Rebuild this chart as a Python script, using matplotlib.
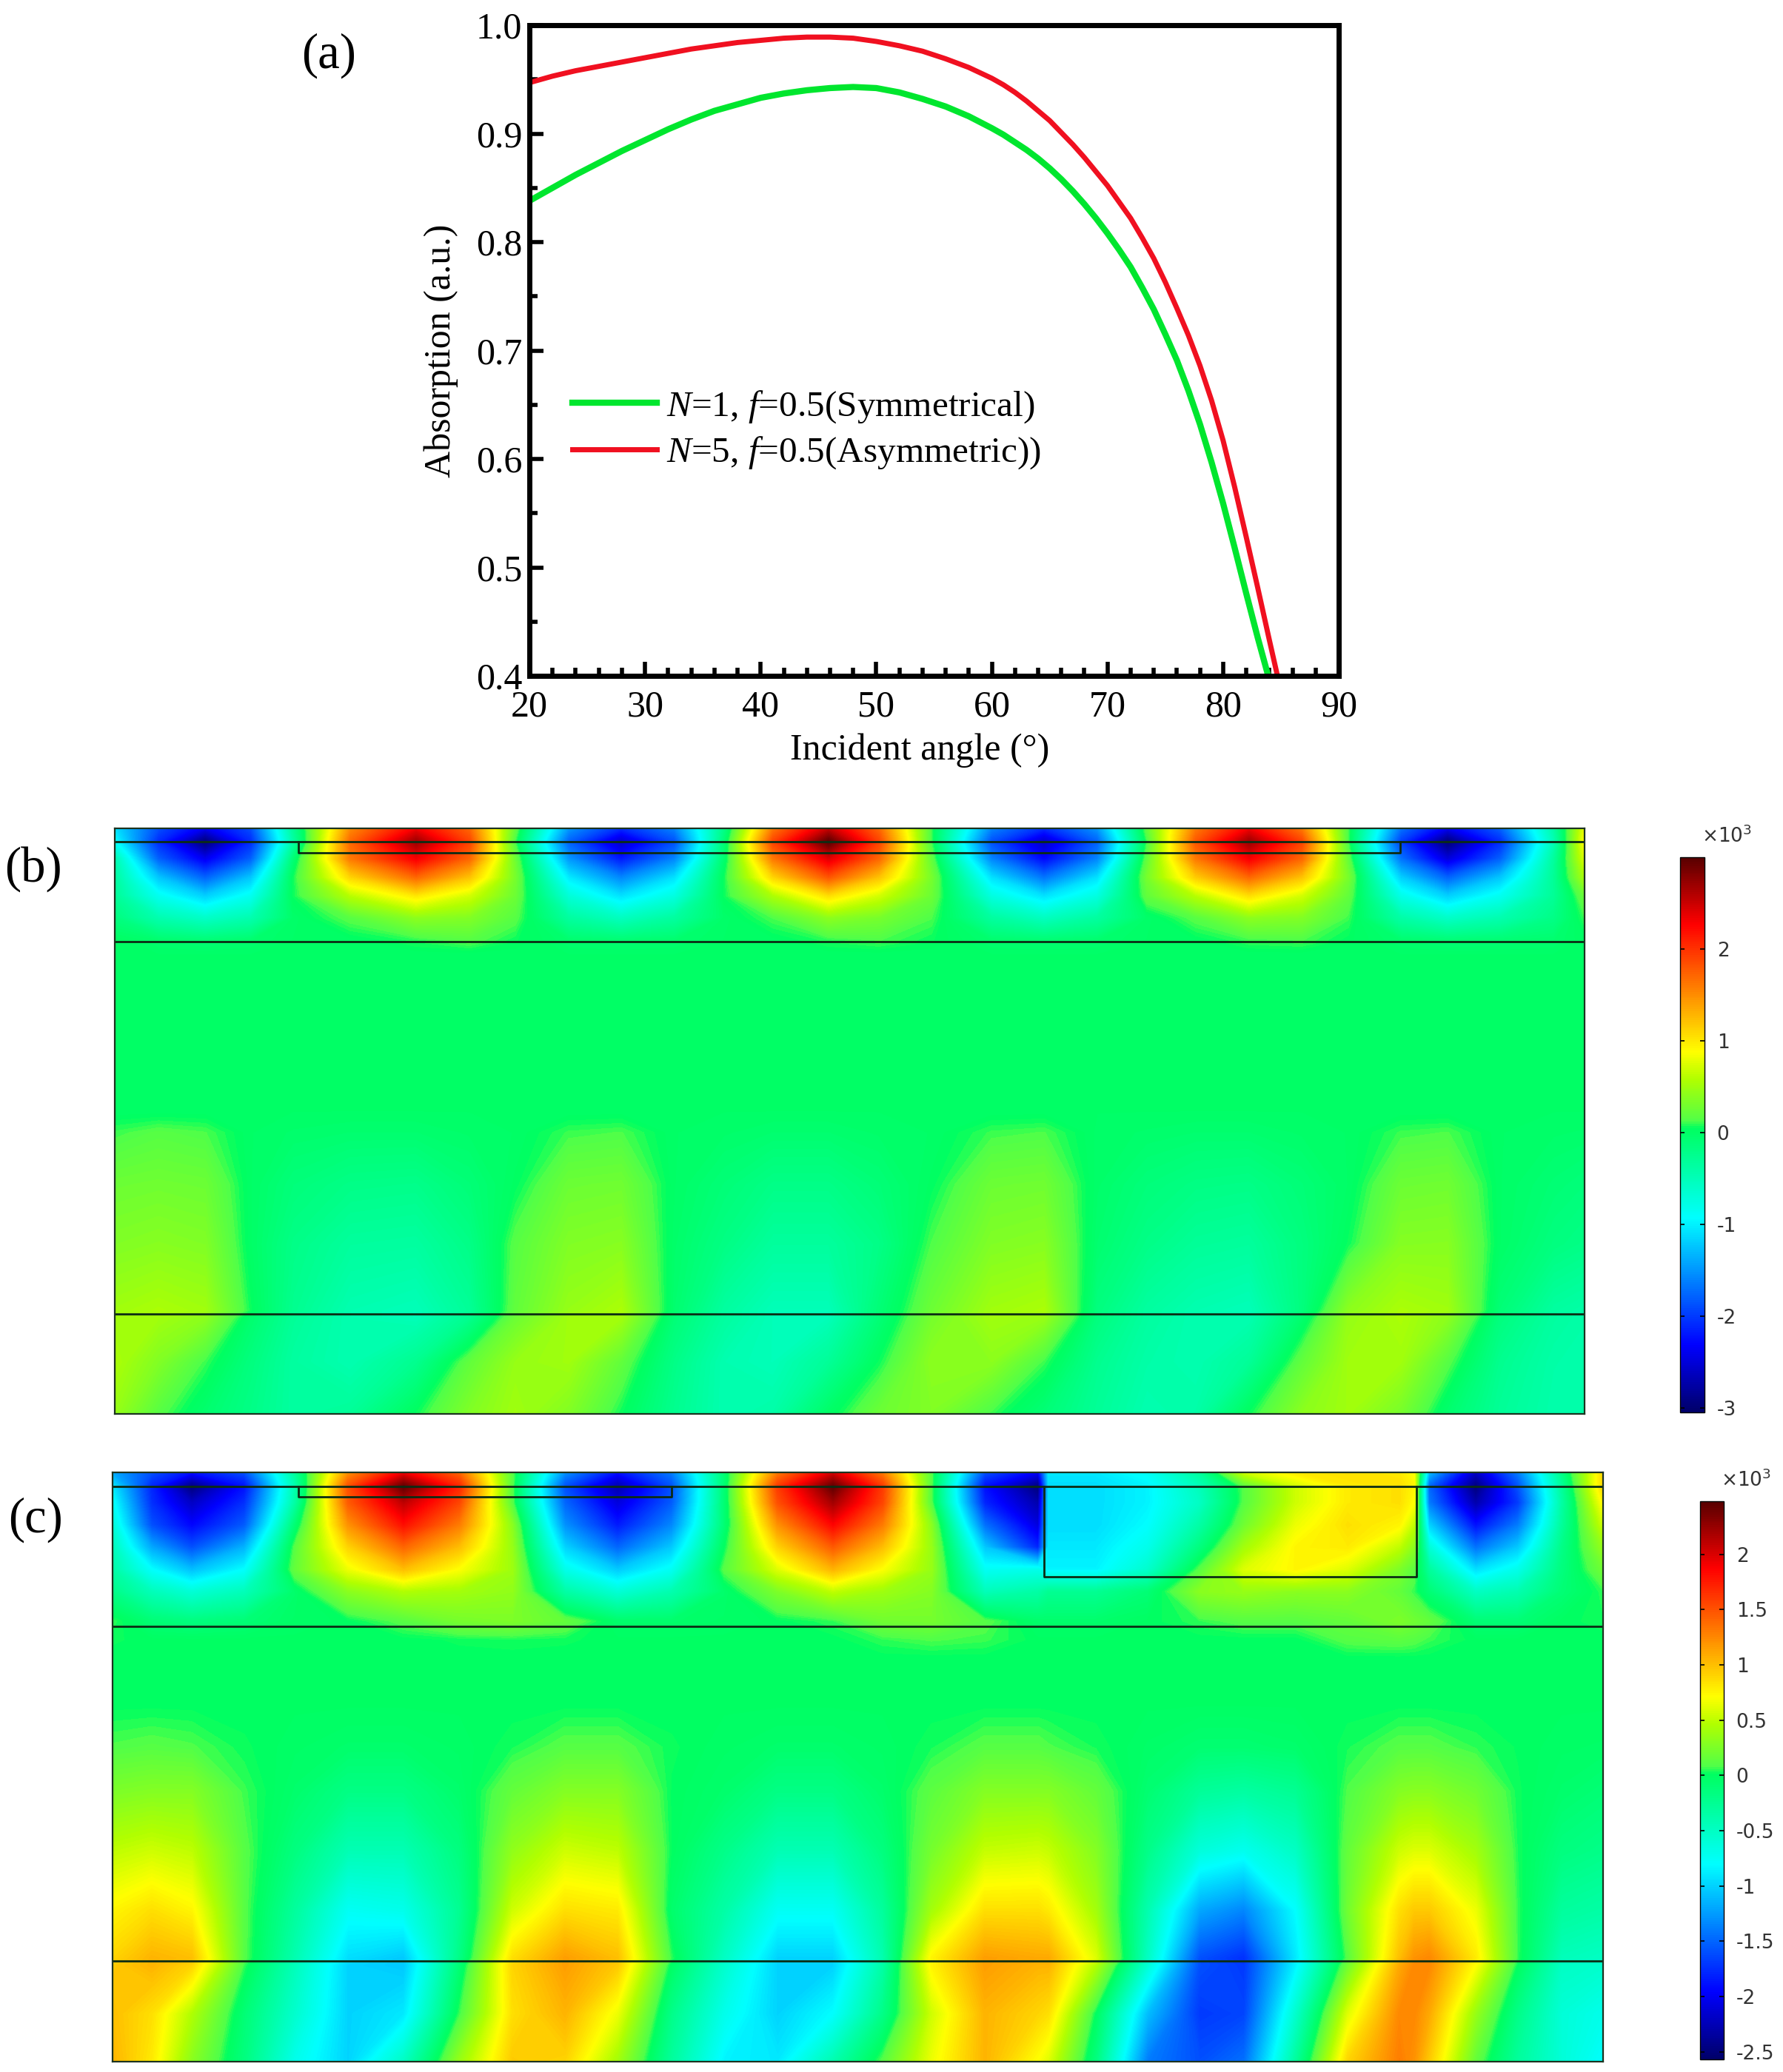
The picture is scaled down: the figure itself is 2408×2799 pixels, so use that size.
import matplotlib
matplotlib.use('Agg')
from matplotlib import pyplot as plt
from matplotlib.cm import ScalarMappable
from matplotlib.colors import LinearSegmentedColormap, Normalize
import numpy as np

W, H = 2408, 2799
plt.rcParams['font.family'] = ['Liberation Serif', 'DejaVu Serif']
plt.rcParams['mathtext.fontset'] = 'custom'
plt.rcParams['mathtext.rm'] = 'Liberation Serif'
plt.rcParams['mathtext.it'] = 'Liberation Serif:italic'

# panel (a)
angle_green = [20, 22, 24, 26, 28, 30, 32, 34, 36, 38, 40, 42, 44, 46, 48, 50, 52, 54, 56, 58, 60, 61, 62, 63, 64,
               65, 66, 67, 68, 69, 70, 71, 72, 73, 74, 75, 76, 77, 78, 79, 80, 81, 82, 83, 83.9]
abs_green = [.838, .850, .862, .873, .884, .894, .904, .913, .921, .927, .933, .937, .940, .942, .943, .942, .938,
             .932, .925, .916, .905, .899, .892, .885, .877, .868, .858, .847, .835, .822, .808, .793, .777, .758,
             .738, .715, .691, .663, .632, .597, .559, .518, .476, .435, .40]
angle_red = [20, 22, 24, 26, 28, 30, 32, 34, 36, 38, 40, 42, 44, 46, 48, 50, 52, 54, 56, 58, 60, 61, 62, 63, 64,
             65, 66, 67, 68, 69, 70, 71, 72, 73, 74, 75, 76, 77, 78, 79, 80, 81, 82, 83, 84, 84.7]
abs_red = [.947, .953, .958, .962, .966, .970, .974, .978, .981, .984, .986, .988, .989, .989, .988, .985, .981,
           .976, .969, .961, .951, .945, .938, .930, .921, .912, .901, .890, .878, .865, .852, .837, .822, .804,
           .785, .763, .739, .714, .686, .654, .617, .574, .528, .481, .433, .40]

# panel (b), field in units of 1e3, sampled along reference pixel rows/columns
b_x = [155, 214, 277, 339, 396, 473, 562, 634, 696, 768, 839, 911, 978, 1044, 1119, 1187, 1258, 1339, 1410, 1482,
       1549, 1615, 1687, 1758, 1821, 1892, 1955, 2026, 2098, 2140]
b_y = [1119, 1137, 1160, 1185, 1210, 1240, 1270, 1290, 1500, 1530, 1600, 1680, 1770, 1780, 1840, 1910]
b_field = [
    [-1.1, -1.9, -2.4, -1.9, -.3, 1.5, 2.3, 1.7, .2, -1.5, -2.1, -1.6, -.2, 1.6, 2.5, 1.7, .1, -1.6, -2.1, -1.5, .2, 1.6, 2.3, 1.6, .1, -1.7, -2.4, -1.8, -.4, .8],
    [-.9, -2.1, -3.0, -2.1, -.4, 1.7, 2.7, 1.9, .1, -1.8, -2.6, -1.9, -.1, 1.9, 3.0, 1.9, .1, -1.9, -2.6, -1.8, .1, 1.8, 2.7, 1.9, .1, -2.0, -3.0, -2.1, -.5, .9],
    [-.45, -1.8, -2.4, -1.8, -.1, 1.6, 2.3, 1.7, .25, -1.5, -2.2, -1.6, -.05, 1.6, 2.4, 1.7, .2, -1.6, -2.3, -1.6, .2, 1.6, 2.3, 1.7, .2, -1.7, -2.5, -1.8, -.35, .75],
    [-.35, -1.25, -1.8, -1.25, .05, 1.1, 1.7, 1.2, .3, -1.05, -1.6, -1.1, .05, 1.1, 1.8, 1.2, .3, -1.1, -1.7, -1.1, .3, 1.15, 1.7, 1.2, .3, -1.2, -1.8, -1.25, -.3, .55],
    [-.3, -.85, -1.2, -.85, .05, .6, 1.0, .7, .25, -.7, -1.1, -.75, .05, .55, 1.05, .7, .25, -.75, -1.1, -.75, .2, .6, 1.05, .7, .2, -.8, -1.2, -.85, -.3, .25],
    [-.15, -.45, -.6, -.45, -.02, .15, .4, .35, .15, -.35, -.55, -.35, -.02, .12, .4, .3, .12, -.35, -.55, -.35, -.02, .15, .4, .35, .1, -.4, -.6, -.45, -.2, .1],
    [.02, -.05, -.1, -.05, .0, .01, .08, .15, .05, -.05, -.08, -.05, .0, .01, .08, .12, .05, -.05, -.08, -.05, .0, .02, .1, .12, .03, -.05, -.1, -.08, -.05, .02],
    [0] * 30,
    [0] * 30,
    [.1, .15, .12, .0, -.03, -.05, -.05, -.02, .0, .1, .12, .0, -.02, -.05, -.05, -.02, .0, .1, .12, -.01, -.03, -.05, -.05, -.02, .0, .1, .12, .0, -.02, -.03],
    [.25, .27, .25, .0, -.12, -.2, -.22, -.1, .03, .25, .27, .0, -.1, -.2, -.2, -.1, .03, .25, .27, -.02, -.12, -.18, -.2, -.1, .0, .25, .27, .0, -.08, -.12],
    [.35, .38, .35, .0, -.2, -.33, -.35, -.2, .15, .35, .38, -.02, -.18, -.33, -.33, -.2, .12, .35, .38, -.05, -.2, -.3, -.33, -.15, .05, .37, .38, .0, -.15, -.2],
    [.5, .55, .5, .05, -.25, -.45, -.5, -.3, .2, .45, .55, -.05, -.35, -.5, -.5, -.1, .25, .5, .55, -.15, -.35, -.45, -.5, -.15, .4, .55, .5, -.1, -.35, -.4],
    [.5, .5, .4, -.05, -.3, -.45, -.5, -.25, .25, .5, .5, -.1, -.35, -.5, -.5, -.1, .3, .5, .45, -.15, -.35, -.45, -.45, -.05, .45, .55, .4, -.15, -.35, -.4],
    [.55, .35, .1, -.15, -.35, -.45, -.25, .2, .45, .5, .2, -.2, -.45, -.5, -.3, .05, .4, .4, .1, -.25, -.4, -.45, -.3, .2, .5, .5, .15, -.25, -.4, -.42],
    [.45, .15, -.05, -.2, -.35, -.3, .05, .35, .5, .35, .05, -.25, -.45, -.4, .0, .25, .35, .1, -.1, -.3, -.45, -.4, .05, .4, .5, .3, -.05, -.3, -.42, -.4],
]
b_ticks = [-3, -2, -1, 0, 1, 2]
b_tick_labels = ['-3', '-2', '-1', '0', '1', '2']

# panel (c)
c_x = [152, 205, 259, 330, 398, 470, 545, 620, 692, 763, 834, 907, 978, 1050, 1125, 1192, 1258, 1330, 1402, 1416,
       1480, 1550, 1620, 1680, 1750, 1820, 1890, 1910, 1930, 1993, 2050, 2109, 2165]
c_y = [1989, 2008, 2030, 2060, 2090, 2120, 2150, 2190, 2215, 2240, 2300, 2360, 2420, 2500, 2580, 2645, 2655, 2720, 2785]
c_field = [
    [-1.2, -1.6, -1.9, -1.6, -.3, 1.2, 1.9, 1.4, .1, -1.3, -1.9, -1.4, -.1, 1.3, 2.0, 1.3, .1, -1.6, -2.0, -.9, -.9, -.75, -.3, .55, .8, .85, .8, .7, -1.1, -2.2, -1.4, -.2, .9],
    [-.9, -1.8, -2.5, -1.9, -.4, 1.5, 2.45, 1.7, .1, -1.6, -2.3, -1.6, -.1, 1.6, 2.45, 1.6, .1, -1.9, -2.5, -.95, -.95, -.85, -.45, .1, .55, .8, .85, .75, -1.5, -2.5, -1.6, -.3, .9],
    [-.75, -1.75, -2.2, -1.75, -.35, 1.45, 2.1, 1.55, .1, -1.5, -2.1, -1.55, -.1, 1.5, 2.2, 1.55, .1, -1.8, -2.3, -.95, -.95, -.85, -.5, .1, .55, .8, .85, .7, -1.4, -2.3, -1.7, -.35, .75],
    [-.6, -1.6, -1.95, -1.55, -.1, 1.2, 1.8, 1.3, .3, -1.3, -1.85, -1.35, -.1, 1.2, 1.85, 1.3, .3, -1.45, -2.1, -.95, -.95, -.8, -.35, .2, .65, .85, .75, .5, -1.0, -1.9, -1.4, -.3, .55],
    [-.45, -1.2, -1.6, -1.15, .1, .9, 1.4, 1.0, .35, -1.0, -1.5, -1.05, .0, .9, 1.45, 1.0, .35, -1.05, -1.8, -.9, -.9, -.7, -.15, .4, .75, .8, .5, .3, -.6, -1.45, -1.05, -.2, .35],
    [-.35, -.8, -1.1, -.8, .15, .65, 1.0, .7, .38, -.7, -1.05, -.75, .1, .6, 1.05, .7, .35, -.75, -.7, -.85, -.85, -.55, .1, .6, .75, .6, .25, .12, -.3, -.95, -.7, -.15, .2],
    [-.2, -.45, -.6, -.45, -.05, .3, .45, .4, .33, -.35, -.6, -.4, -.05, .25, .5, .38, .28, -.45, -.35, -.25, -.25, -.1, .3, .35, .3, .3, .15, .05, -.1, -.5, -.4, -.1, .05],
    [.05, -.1, -.15, -.1, -.02, .0, .1, .22, .25, .15, -.05, -.05, -.02, .0, .05, .2, .22, .1, -.05, -.05, -.05, .0, .05, .1, .1, .15, .25, .2, .15, -.1, -.1, .0, .03],
    [.02, 0, 0, 0, 0, 0, 0, .02, .03, .02, 0, 0, 0, 0, 0, .05, .08, .06, 0, 0, 0, 0, 0, 0, 0, .1, .12, .1, .06, 0, 0, 0, 0],
    [0] * 33,
    [0] * 33,
    [.08, .1, .08, .02, -.02, -.05, -.05, -.02, .03, .1, .1, .02, -.02, -.05, -.05, -.02, .03, .1, .1, .08, .03, -.03, -.08, -.08, -.05, .03, .1, .1, .1, .05, .01, -.02, -.03],
    [.25, .28, .28, .06, -.05, -.18, -.18, -.05, .15, .28, .28, .01, -.05, -.18, -.18, -.05, .12, .28, .28, .28, .15, -.08, -.28, -.33, -.25, .08, .28, .3, .3, .2, .02, -.05, -.1],
    [.5, .55, .5, .1, -.15, -.42, -.42, -.15, .33, .55, .5, .01, -.2, -.42, -.42, -.15, .22, .52, .55, .52, .28, -.2, -.62, -.72, -.5, .15, .55, .6, .6, .4, .03, -.15, -.2],
    [.75, .85, .75, .1, -.3, -.75, -.7, -.25, .55, .85, .8, -.05, -.35, -.75, -.75, -.3, .4, .85, .85, .8, .4, -.4, -1.2, -1.35, -.8, .2, .85, .95, .95, .65, .05, -.3, -.35],
    [.9, 1.05, 1.0, .1, -.4, -.95, -1.05, -.2, .85, 1.15, 1.0, .05, -.5, -1.0, -1.0, -.4, .75, 1.15, 1.1, 1.1, .6, -.5, -1.6, -1.75, -.9, .1, 1.0, 1.2, 1.25, .8, .05, -.45, -.5],
    [.95, 1.05, .9, .05, -.45, -1.0, -1.05, -.1, .9, 1.15, .95, -.02, -.55, -1.0, -1.0, -.35, .75, 1.15, 1.05, 1.05, .45, -.6, -1.6, -1.7, -.85, .2, 1.1, 1.25, 1.25, .7, .0, -.5, -.55],
    [1.0, .85, .45, -.1, -.55, -1.0, -.9, .05, .85, 1.05, .65, -.2, -.7, -1.0, -.8, -.2, .55, 1.05, .9, .85, .0, -1.1, -1.7, -1.65, -.55, .6, 1.25, 1.25, 1.1, .35, -.2, -.6, -.7],
    [1.05, .8, .3, -.15, -.7, -1.0, -.5, .35, .95, .9, .4, -.3, -.85, -.9, -.4, .1, .65, 1.05, .7, .6, -.15, -1.4, -1.6, -1.45, -.3, .9, 1.3, 1.2, .95, .15, -.3, -.6, -.8],
]
c_ticks = [-2.5, -2, -1.5, -1, -.5, 0, .5, 1, 1.5, 2]
c_tick_labels = ['-2.5', '-2', '-1.5', '-1', '-0.5', '0', '0.5', '1', '1.5', '2']

cmap = LinearSegmentedColormap.from_list('rainbow_comsol', [
    (0, '#00006a'), (.12, '#0000ff'), (.35, '#00ffff'), (.5, '#00ff6a'), (.512, '#00ff60'), (.525, '#50ff48'),
    (.6, '#b0ff00'), (.65, '#ffff00'), (.88, '#ff0000'), (1, '#5a0000')])


def px_axes(fig, left, top, right, bottom):
    return fig.add_axes([left / W, 1 - bottom / H, (right - left) / W, (bottom - top) / H])


def field_panel(fig, box, xs, ys, field, vmin, vmax, hlines, rects):
    ax = px_axes(fig, *box)
    norm = Normalize(vmin, vmax)
    levels = np.linspace(vmin, vmax, 257)
    ax.contourf(xs, ys, np.array(field), levels=levels, cmap=cmap, norm=norm, extend='both', antialiased=False)
    ax.set_xlim(box[0], box[2])
    ax.set_ylim(box[3], box[1])
    ax.set_xticks([])
    ax.set_yticks([])
    for s in ax.spines.values():
        s.set_linewidth(1.6)
        s.set_color('#1c3320')
    for y in hlines:
        ax.plot([box[0], box[2]], [y, y], color='#0c2c14', lw=2)
    for (x0, y0, x1, y1) in rects:
        ax.plot([x0, x0, x1, x1], [y0, y1, y1, y0], color='#0c2c14', lw=2)
    return norm


def field_colorbar(fig, box, norm, ticks, labels):
    cax = px_axes(fig, *box)
    cb = fig.colorbar(ScalarMappable(norm=norm, cmap=cmap), cax=cax)
    cb.set_ticks(ticks, labels=labels)
    cb.ax.tick_params(direction='in', length=4, width=1.2, left=True, right=True, pad=12,
                      labelsize=19, labelcolor='#333333', labelfontfamily='DejaVu Sans')
    cb.outline.set_linewidth(1)
    fig.text((box[0] + box[2]) / 2 / W + 0.0192, 1 - (box[1] - 28) / H, '×10$^{3}$', family='DejaVu Sans',
             fontsize=19, color='#333333', ha='center', va='center',
             math_fontfamily='dejavusans')


fig = plt.figure(figsize=(W / 100, H / 100), dpi=100)

# (a)
ax = px_axes(fig, 715, 34, 1808, 913)
ax.plot(angle_green, abs_green, color='#00e62e', lw=6, label=r'$\mathit{N}$=1, $\mathit{f}$=0.5(Symmetrical)')
ax.plot(angle_red, abs_red, color='#f01020', lw=5, label=r'$\mathit{N}$=5, $\mathit{f}$=0.5(Asymmetric))')
ax.set_xlim(20, 90)
ax.set_ylim(.4, 1.0)
ax.set_xticks(range(20, 91, 10))
ax.set_xticks(range(20, 91, 2), minor=True)
ax.set_yticks([.4, .5, .6, .7, .8, .9, 1.0])
ax.set_yticks(np.arange(.4, 1.0, .05), minor=True)
ax.yaxis.set_major_formatter('{x:.1f}')
ax.tick_params(which='major', direction='in', length=14, width=4, labelsize=36)
ax.tick_params(which='minor', direction='in', length=8, width=4)
ax.tick_params(axis='x', which='major', pad=14)
ax.tick_params(axis='y', which='major', pad=7)
for s in ax.spines.values():
    s.set_linewidth(5)
ax.set_xlabel('Incident angle (°)', fontsize=36, labelpad=8, x=.482)
ax.set_ylabel('Absorption (a.u.)', fontsize=36, labelpad=17)
ax.legend(loc='center left', bbox_to_anchor=(.053, .378), frameon=False, fontsize=35.5, handlelength=2.32,
          handletextpad=.25, labelspacing=.28, borderpad=0, borderaxespad=0)

# (b)
b_norm = field_panel(fig, (155, 1119, 2140, 1910), b_x, b_y, b_field, -3.05, 3.0,
                     [1137, 1272, 1775], [(403, 1137, 1891, 1152)])
field_colorbar(fig, (2269, 1158, 2302, 1908), b_norm, b_ticks, b_tick_labels)

# (c)
c_norm = field_panel(fig, (152, 1989, 2165, 2785), c_x, c_y, c_field, -2.57, 2.48,
                     [2008, 2197, 2649], [(403, 2008, 907, 2022), (1410, 2008, 1913, 2130)])
field_colorbar(fig, (2296, 2028, 2328, 2782), c_norm, c_ticks, c_tick_labels)

for label, x, y in [('(a)', 444, 75), ('(b)', 45, 1174), ('(c)', 48, 2053)]:
    fig.text(x / W, 1 - y / H, label, fontsize=48, ha='center', va='center')

fig.savefig('out.png', dpi=100)
plt.close(fig)
